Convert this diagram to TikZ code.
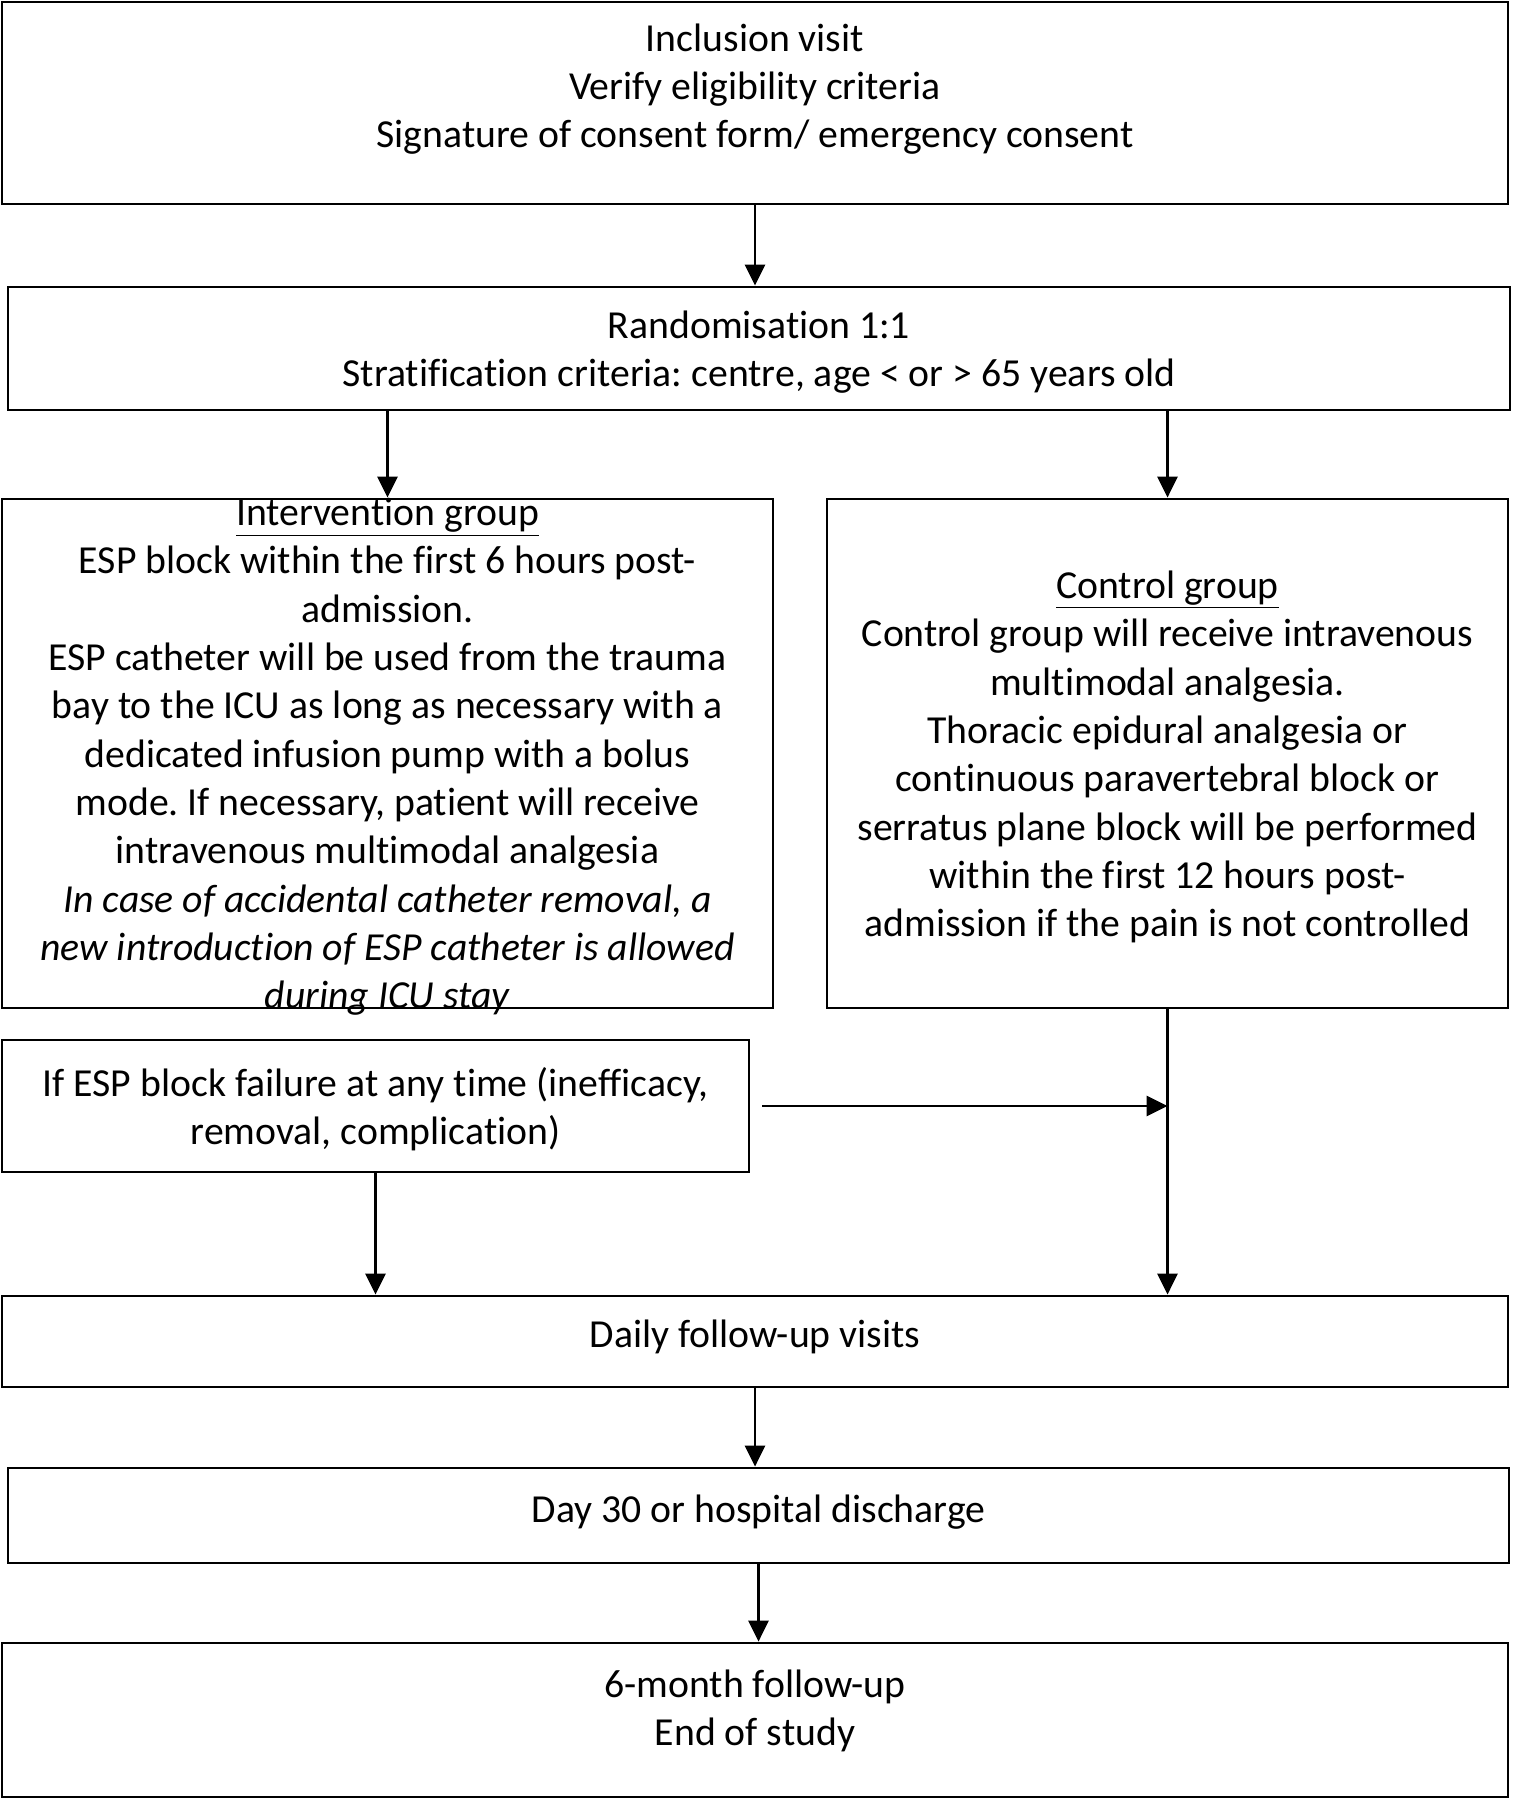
\documentclass[tikz,border=0pt]{standalone}
\usepackage{fontspec}
\setmainfont{Carlito}[Ligatures=NoCommon]
\frenchspacing
\usetikzlibrary{arrows.meta}

\tikzset{
	box/.style={draw,line width=1.6pt,inner sep=0},
	txt/.style={inner sep=0,align=center,font=\fontsize{22.6}{27.5}\selectfont},
	arr/.style={line width=1.6pt,-{Triangle[length=0.42cm,width=0.4cm]}}
}

\begin{document}
\begin{tikzpicture}
	\useasboundingbox (0,0) rectangle (30.24,-36);
	% boxes
	\node[box,minimum width=30.12cm,minimum height=4.04cm,label={[txt,yshift=0.28cm]center:{Inclusion visit\\Verify eligibility criteria\\Signature of consent form/ emergency consent}}] (incl) at (15.1,-2.06) {};
	\node[box,minimum width=30.04cm,minimum height=2.46cm,label={[txt,yshift=-0.07cm]center:{Randomisation 1:1\\Stratification criteria: centre, age < or > 65 years old}}] (rand) at (15.18,-6.97) {};
	\node[box,minimum width=15.42cm,minimum height=10.18cm,label={[txt,yshift=-0.07cm]center:{\underline{Intervention group}\\ESP block within the first 6 hours post-\\admission.\\ESP catheter will be used from the trauma\\bay to the ICU as long as necessary with a\\dedicated infusion pump with a bolus\\mode. If necessary, patient will receive\\intravenous multimodal analgesia\\\textit{In case of accidental catheter removal, a}\\\textit{new introduction of ESP catheter is allowed}\\\textit{during ICU stay}}}] (interv) at (7.75,-15.07) {};
	\node[box,minimum width=13.62cm,minimum height=10.18cm,label={[txt,yshift=-0.07cm]center:{\underline{Control group}\\Control group will receive intravenous\\multimodal analgesia.\\Thoracic epidural analgesia or\\continuous paravertebral block or\\serratus plane block will be performed\\within the first 12 hours post-\\admission if the pain is not controlled}}] (ctrl) at (23.35,-15.07) {};
	\node[box,minimum width=14.94cm,minimum height=2.64cm,label={[txt,yshift=-0.07cm]center:{If ESP block failure at any time (inefficacy,\\removal, complication)}}] (fail) at (7.51,-22.12) {};
	\node[box,minimum width=30.12cm,minimum height=1.82cm,label={[txt,yshift=0.09cm]center:{Daily follow-up visits}}] (daily) at (15.1,-26.83) {};
	\node[box,minimum width=30.02cm,minimum height=1.9cm,label={[txt,yshift=0.07cm]center:{Day 30 or hospital discharge}}] (day30) at (15.17,-30.31) {};
	\node[box,minimum width=30.12cm,minimum height=3.08cm,label={[txt,yshift=0.18cm]center:{6-month follow-up\\End of study}}] (end) at (15.1,-34.4) {};
	% arrows
	\draw[arr] (incl.south) -- (incl.south |- rand.north);
	\draw[arr] (interv.north |- rand.south) -- (interv.north);
	\draw[arr] (ctrl.north |- rand.south) -- (ctrl.north);
	\draw[arr] (ctrl.south) -- (ctrl.south |- daily.north);
	\draw[arr] ([xshift=0.24cm]fail.east) -- (fail.east -| ctrl.south);
	\draw[arr] (fail.south) -- (fail.south |- daily.north);
	\draw[arr] (daily.south) -- (daily.south |- day30.north);
	\draw[arr] (day30.south) -- (day30.south |- end.north);
\end{tikzpicture}
\end{document}
